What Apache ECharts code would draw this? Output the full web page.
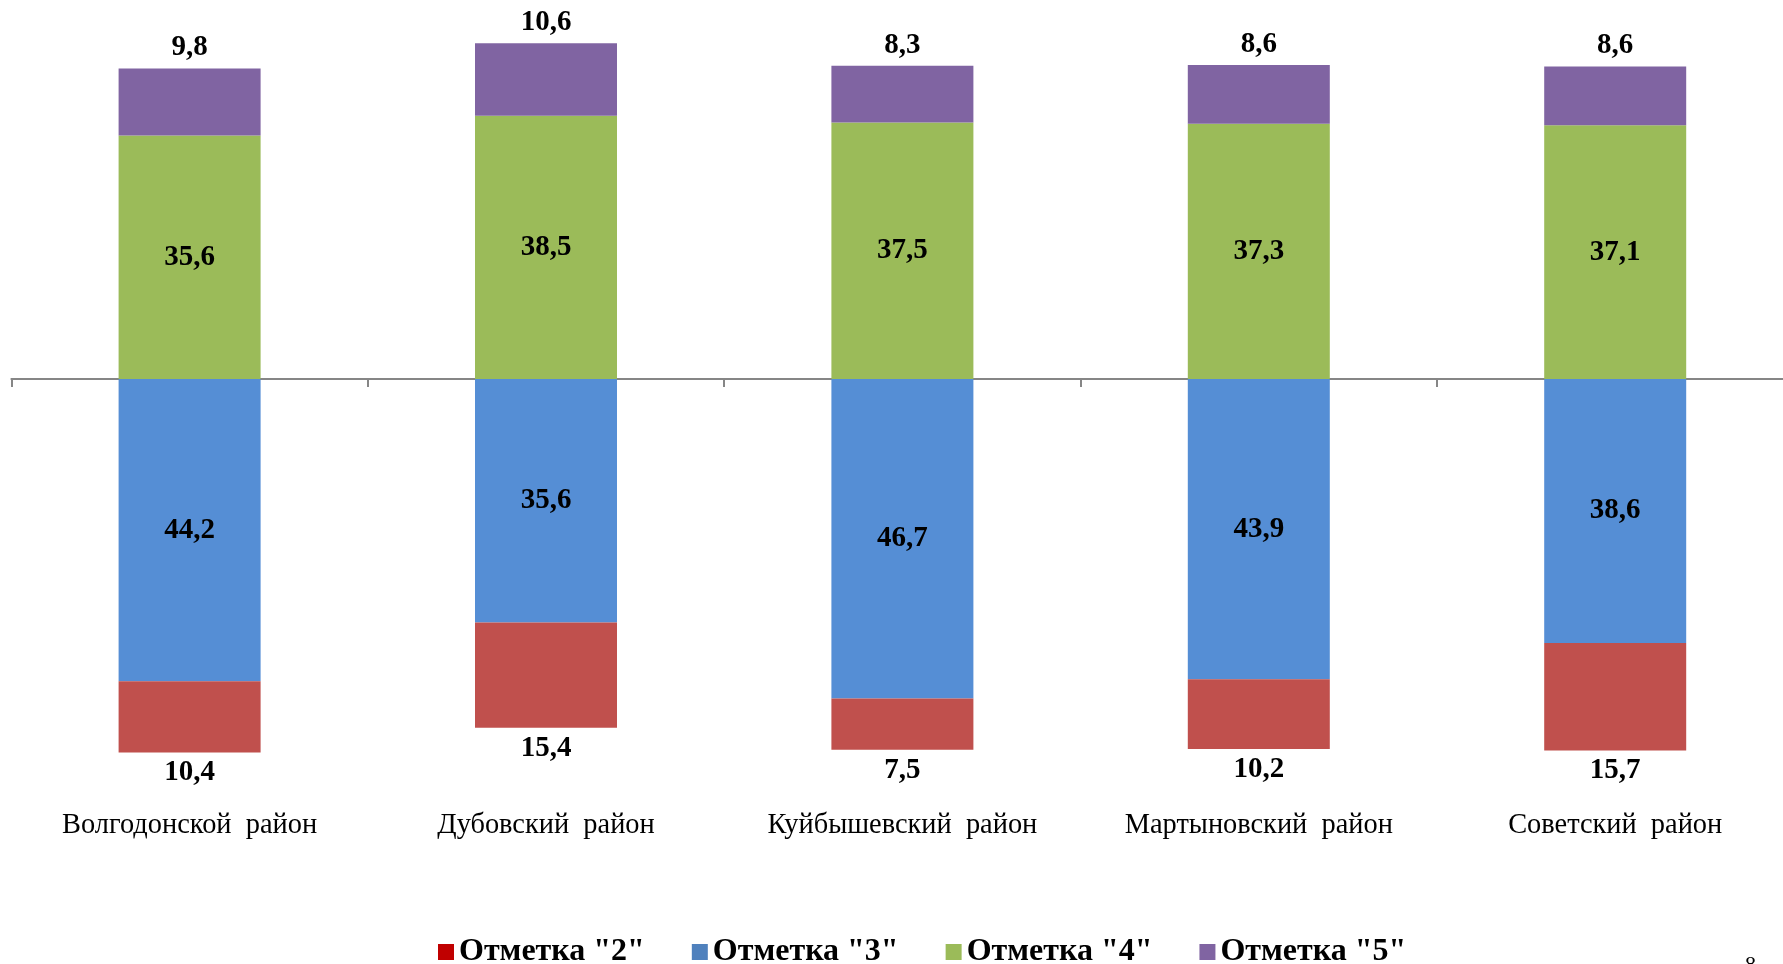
<!DOCTYPE html>
<html>
<head>
<meta charset="utf-8">
<script src="https://cdn.jsdelivr.net/npm/echarts@6/dist/echarts.min.js"></script>
<style>
html,body{margin:0;padding:0;background:#fff;}
#chart{width:1783px;height:964px;}
</style>
</head>
<body>
<div id="chart"></div>
<script>
const categories = ['Волгодонской  район', 'Дубовский  район', 'Куйбышевский  район', 'Мартыновский  район', 'Советский  район'];
const mark2 = [10.4, 15.4, 7.5, 10.2, 15.7];
const mark3 = [44.2, 35.6, 46.7, 43.9, 38.6];
const mark4 = [35.6, 38.5, 37.5, 37.3, 37.1];
const mark5 = [9.8, 10.6, 8.3, 8.6, 8.6];
const seriesNames = ['Отметка "2"', 'Отметка "3"', 'Отметка "4"', 'Отметка "5"'];

const FONT = "'Liberation Serif', 'Times New Roman', serif";
const fmt = p => Math.abs(p.value).toFixed(1).replace('.', ',');
const neg = arr => arr.map(v => -v);

const labelBase = { show: true, formatter: fmt, fontFamily: FONT, fontWeight: 'bold', fontSize: 29, color: '#000' };

const chart = echarts.init(document.getElementById('chart'));
chart.setOption({
  backgroundColor: '#fff',
  animation: false,
  grid: { left: 11.4, top: 37, width: 1782, height: 752.4, containLabel: false, outerBoundsMode: 'none' },
  xAxis: [{
    type: 'category',
    data: categories,
    boundaryGap: true,
    axisLine: { onZero: true, lineStyle: { color: '#868686', width: 2 } },
    axisTick: { show: true, length: 8, lineStyle: { color: '#868686', width: 2 } },
    axisLabel: { show: false }
  }, {
    type: 'category',
    data: categories,
    position: 'bottom',
    boundaryGap: true,
    axisLine: { show: false, onZero: false },
    axisTick: { show: false },
    axisLabel: { show: true, margin: 22, fontFamily: FONT, fontSize: 28.4, color: '#000', interval: 0, hideOverlap: false }
  }],
  yAxis: {
    type: 'value', min: -60, max: 50, interval: 10,
    show: false, splitLine: { show: false }
  },
  legend: {
    left: 433, top: 931,
    itemWidth: 16, itemHeight: 16, itemGap: 47,
    icon: 'rect',
    textStyle: { fontFamily: FONT, fontWeight: 'bold', fontSize: 32, color: '#000' },
    data: [
      { name: seriesNames[0], itemStyle: { color: '#C00000' } },
      { name: seriesNames[1], itemStyle: { color: '#4F81BD' } },
      { name: seriesNames[2], itemStyle: { color: '#9BBB59' } },
      { name: seriesNames[3], itemStyle: { color: '#8064A2' } }
    ]
  },
  graphic: [{
    type: 'text', left: 1745, top: 954,
    style: { text: '8', font: "22px 'Liberation Serif'", fill: '#000' }
  }],
  series: [
    { name: seriesNames[1], type: 'bar', stack: 'total', barWidth: 142, data: neg(mark3),
      itemStyle: { color: '#558ED5' }, label: Object.assign({}, labelBase, { position: 'inside' }) },
    { name: seriesNames[0], type: 'bar', stack: 'total', barWidth: 142, data: neg(mark2),
      itemStyle: { color: '#C0504D' }, label: Object.assign({}, labelBase, { position: 'outside', distance: 6 }) },
    { name: seriesNames[2], type: 'bar', stack: 'total', barWidth: 142, data: mark4,
      itemStyle: { color: '#9BBB59' }, label: Object.assign({}, labelBase, { position: 'inside' }) },
    { name: seriesNames[3], type: 'bar', stack: 'total', barWidth: 142, data: mark5,
      itemStyle: { color: '#8064A2' }, label: Object.assign({}, labelBase, { position: 'outside', distance: 6 }) }
  ]
});
</script>
</body>
</html>
